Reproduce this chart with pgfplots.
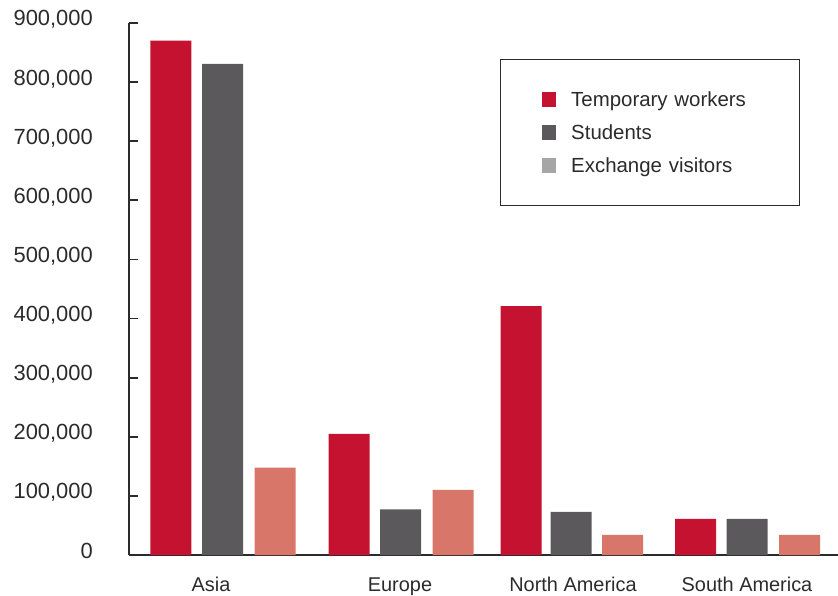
\documentclass[border=0pt]{standalone}
\usepackage{fontspec}
\setmainfont{Liberation Sans}
\usepackage{pgfplots}
\pgfplotsset{compat=1.18}
\definecolor{tempred}{HTML}{C41230}
\definecolor{studgray}{HTML}{5B595C}
\definecolor{exsalmon}{HTML}{D9766A}
\definecolor{legsw}{HTML}{A6A6A6}
\definecolor{txt}{HTML}{2B2B2B}
\pgfplotsset{sw/.style={legend image code/.code={
  \fill[##1, draw=none] (0bp,-7.25bp) rectangle (14.5bp,7.25bp);}}}

\begin{document}
\begin{tikzpicture}
\useasboundingbox (-129bp,-41bp) rectangle (709bp,555bp);
\begin{axis}[
    at={(0,0)}, anchor=south west,
    scale only axis, width=709bp, height=532bp,
    xmin=0, xmax=709, ymin=0, ymax=900000,
    axis lines*=left,
    axis line style={-, draw=txt, line width=1.8bp},
    tick align=inside, major tick length=9bp,
    ytick={0,100000,...,900000},
    scaled y ticks=false,
    ytick style={draw=txt, line width=1.8bp},
    yticklabel style={/pgf/number format/fixed, /pgf/number format/1000 sep={,},
        /pgf/number format/assume math mode=true,
        font=\fontsize{22}{24}\selectfont, text=txt,
        anchor=base east, inner sep=0pt, xshift=-36bp, yshift=-3bp},
    xtick={82,271,444,618},
    xticklabels={Asia,Europe,North America,South America},
    xtick style={draw=none},
    xticklabel style={font=\fontsize{20}{24}\selectfont, text=txt,
        anchor=base, inner sep=0pt, yshift=-27.7bp},
    ybar, bar width=41bp,
    clip=false,
    legend cell align=left,
    legend style={at={(axis cs:371,839100)}, anchor=north west,
        draw=txt, line width=1.4bp,
        inner xsep=41bp, inner ysep=32bp,
        font=\fontsize{20.5}{24}\selectfont, text=txt,
        nodes={inner sep=0pt, text height=15bp, text depth=1bp,
               text width=187bp, align=left},
        /tikz/row sep=17bp, /tikz/column sep=15bp},
]
\addplot[fill=tempred, draw=none, bar shift=0pt, sw] coordinates
    {(42,870000) (220,205000) (392,421000) (566.5,61000)};
\addplot[fill=studgray, draw=none, bar shift=0pt, sw] coordinates
    {(93.5,831000) (271.5,77000) (442,73000) (618,61000)};
\addplot[fill=exsalmon, draw=none, bar shift=0pt,
    legend image code/.code={
      \fill[legsw, draw=none] (0bp,-7.25bp) rectangle (14.5bp,7.25bp);}]
    coordinates
    {(146,148000) (324,110000) (493.5,34000) (670.5,34000)};
\legend{Temporary workers, Students, Exchange visitors}
\end{axis}
\end{tikzpicture}
\end{document}
